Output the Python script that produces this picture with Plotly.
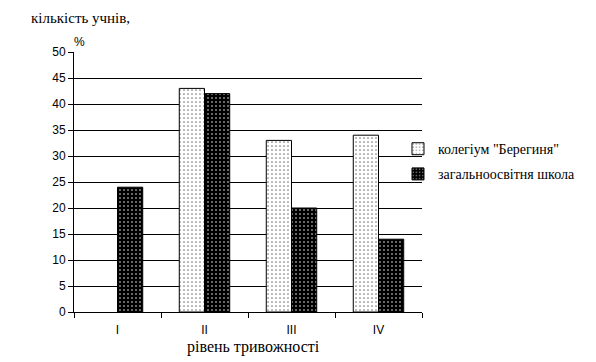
import plotly.graph_objects as go

categories = ["I", "II", "III", "IV"]
kolegium = [0, 43, 33, 34]
shkola = [24, 42, 20, 14]
series_names = ['колегіум "Берегиня"', "загальноосвітня школа"]
y_ticks = list(range(0, 51, 5))

serif = "Liberation Serif"
sans = "Liberation Sans"

fig = go.Figure()
fig.add_trace(go.Bar(
    x=categories, y=[v if v else None for v in kolegium], name=series_names[0],
    legendgroup="a",
    marker=dict(color="white", line=dict(color="black", width=1),
                pattern=dict(shape=".", fgcolor="black", bgcolor="white", size=4, solidity=0.15)),
))
fig.add_trace(go.Bar(
    x=categories, y=shkola, name=series_names[1],
    legendgroup="b",
    marker=dict(color="black", line=dict(color="black", width=1),
                pattern=dict(shape=".", fgcolor="white", bgcolor="black", size=4, solidity=0.22)),
))

fig.update_layout(
    width=596, height=362,
    margin=dict(l=74, r=174, t=52, b=50, autoexpand=False),
    paper_bgcolor="white", plot_bgcolor="white",
    font=dict(family=serif, size=14, color="black"),
    barmode="group", bargap=0.42, bargroupgap=0,
    showlegend=True,
    legend=dict(x=0.931, xanchor="left", y=0.688, yanchor="top",
                font=dict(family=serif, size=14, color="black"),
                bgcolor="rgba(0,0,0,0)", itemwidth=30, tracegroupgap=4),
    xaxis=dict(showline=True, linecolor="black", linewidth=1,
               ticks="outside", tickson="boundaries", ticklen=5, tickcolor="black",
               tickfont=dict(family=sans, size=12, color="black"),
               ticklabelstandoff=7, automargin=False,
               showgrid=False),
    yaxis=dict(range=[0, 50], tickvals=y_ticks, showline=True, linecolor="black", linewidth=1,
               ticks="outside", ticklen=5, tickcolor="black",
               showgrid=True, gridcolor="black", gridwidth=1,
               zeroline=False, automargin=False,
               tickfont=dict(family=sans, size=12, color="black")),
    annotations=[
        dict(text="кількість учнів,", xref="paper", yref="paper", x=-0.128, y=1.13,
             xanchor="left", yanchor="middle", showarrow=False,
             font=dict(family=serif, size=15, color="black")),
        dict(text="%", xref="paper", yref="paper", x=-0.005, y=1.04,
             xanchor="left", yanchor="middle", showarrow=False,
             font=dict(family=sans, size=12, color="black")),
        dict(text="рівень тривожності", xref="paper", yref="paper", x=0.517, y=-0.135,
             xanchor="center", yanchor="middle", showarrow=False,
             font=dict(family=serif, size=16, color="black")),
    ],
)

fig.write_html("out.html", config={"displayModeBar": False},
               post_script="document.body.style.margin='0';")
